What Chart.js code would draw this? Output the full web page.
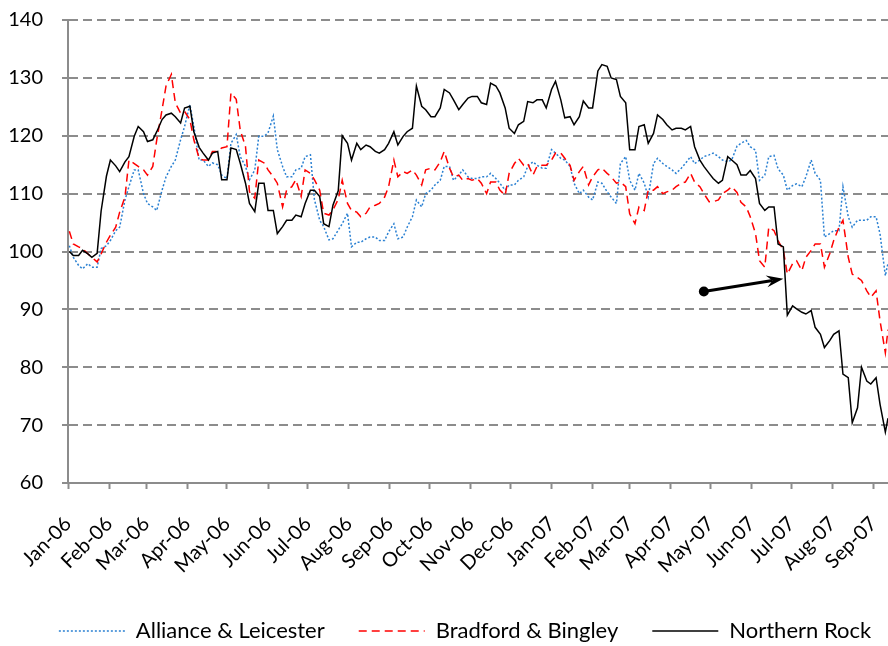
<!DOCTYPE html>
<html>
<head>
<meta charset="utf-8">
<script src="https://cdn.jsdelivr.net/npm/chart.js@4.4.0/dist/chart.umd.min.js"></script>
<style>
html,body{margin:0;padding:0;background:#fff;}
#wrap{width:888px;height:646px;position:relative;}
</style>
</head>
<body>
<div id="wrap"><canvas id="c" width="888" height="646"></canvas></div>
<script>
// ---- data (index values, sampled twice weekly from the reference) ----
const dates = [
 "2006-01-02","2006-01-05","2006-01-09","2006-01-12","2006-01-16","2006-01-19","2006-01-23","2006-01-26",
 "2006-01-30","2006-02-02","2006-02-06","2006-02-09","2006-02-13","2006-02-16","2006-02-20","2006-02-23",
 "2006-02-27","2006-03-02","2006-03-06","2006-03-09","2006-03-13","2006-03-16","2006-03-20","2006-03-23",
 "2006-03-27","2006-03-30","2006-04-03","2006-04-06","2006-04-10","2006-04-13","2006-04-17","2006-04-20",
 "2006-04-24","2006-04-27","2006-05-01","2006-05-04","2006-05-08","2006-05-11","2006-05-15","2006-05-18",
 "2006-05-22","2006-05-25","2006-05-29","2006-06-01","2006-06-05","2006-06-08","2006-06-12","2006-06-15",
 "2006-06-19","2006-06-22","2006-06-26","2006-06-29","2006-07-03","2006-07-06","2006-07-10","2006-07-13",
 "2006-07-17","2006-07-20","2006-07-24","2006-07-27","2006-07-31","2006-08-03","2006-08-07","2006-08-10",
 "2006-08-14","2006-08-17","2006-08-21","2006-08-24","2006-08-28","2006-08-31","2006-09-04","2006-09-07",
 "2006-09-11","2006-09-14","2006-09-18","2006-09-21","2006-09-25","2006-09-28","2006-10-02","2006-10-05",
 "2006-10-09","2006-10-12","2006-10-16","2006-10-19","2006-10-23","2006-10-26","2006-10-30","2006-11-02",
 "2006-11-06","2006-11-09","2006-11-13","2006-11-16","2006-11-20","2006-11-23","2006-11-27","2006-11-30",
 "2006-12-04","2006-12-07","2006-12-11","2006-12-14","2006-12-18","2006-12-21","2006-12-25","2006-12-28",
 "2007-01-01","2007-01-04","2007-01-08","2007-01-11","2007-01-15","2007-01-18","2007-01-22","2007-01-25",
 "2007-01-29","2007-02-01","2007-02-05","2007-02-08","2007-02-12","2007-02-15","2007-02-19","2007-02-22",
 "2007-02-26","2007-03-01","2007-03-05","2007-03-08","2007-03-12","2007-03-15","2007-03-19","2007-03-22",
 "2007-03-26","2007-03-29","2007-04-02","2007-04-05","2007-04-09","2007-04-12","2007-04-16","2007-04-19",
 "2007-04-23","2007-04-26","2007-04-30","2007-05-03","2007-05-07","2007-05-10","2007-05-14","2007-05-17",
 "2007-05-21","2007-05-24","2007-05-28","2007-05-31","2007-06-04","2007-06-07","2007-06-11","2007-06-14",
 "2007-06-18","2007-06-21","2007-06-25","2007-06-28","2007-07-02","2007-07-05","2007-07-09","2007-07-12",
 "2007-07-16","2007-07-19","2007-07-23","2007-07-26","2007-07-30","2007-08-02","2007-08-06","2007-08-09",
 "2007-08-13","2007-08-16","2007-08-20","2007-08-23","2007-08-27","2007-08-30","2007-09-03","2007-09-06",
 "2007-09-10","2007-09-12"
];
const allianceLeicester = [
 101.0,99.0, 97.6,97.0, 97.9,97.3, 97.3,100.5,
 101.0,101.9, 103.6,104.2, 108.9,111.2, 114.1,114.1,
 110.0,108.3, 107.7,107.1, 110.6,112.9, 114.7,115.8,
 119.3,121.6, 125.4,121.6, 115.8,115.8, 114.7,115.3,
 115.0,113.2, 112.6,118.7, 120.2,116.4, 114.7,112.4,
 114.1,119.9, 119.9,120.5, 123.4,117.6, 114.7,112.9,
 112.9,114.1, 114.4,116.4, 116.7,109.0, 105.4,104.3,
 102.0,102.2, 103.7,104.8, 106.6,100.8, 101.6,101.6,
 102.2,102.5, 102.5,101.9, 101.9,103.4, 104.8,102.2,
 102.5,104.2, 106.0,108.9, 107.7,110.0, 110.6,111.5,
 112.3,114.7, 114.7,112.3, 113.2,114.1, 112.9,112.6,
 112.6,112.9, 112.9,113.5, 112.6,111.8, 110.6,111.5,
 111.5,112.3, 112.9,114.7, 115.5,114.9, 114.4,114.4,
 117.6,117.0, 116.1,115.8, 114.7,111.8, 110.0,110.6,
 109.4,108.9, 112.0,111.8, 110.3,109.4, 108.3,115.2,
 116.4,112.3, 110.6,113.5, 111.8,109.4, 115.2,116.1,
 115.2,114.7, 114.1,113.5, 114.4,115.2, 116.4,115.2,
 115.8,116.4, 116.7,117.0, 116.4,115.8, 115.5,115.8,
 118.2,118.7, 119.2,118.1, 117.5,112.3, 113.2,116.4,
 116.6,114.3, 113.2,110.6, 111.4,111.7, 111.2,112.9,
 115.8,113.5, 112.3,102.5, 103.1,103.6, 103.6,111.2,
 106.0,104.2, 105.4,105.4, 105.4,106.0, 106.0,103.0,
 95.8,98.0
];
const bradfordBingley = [
 103.5,101.3, 100.8,100.5, 99.6,99.0, 98.2,99.6,
 101.6,102.8, 104.2,106.8, 109.4,115.8, 115.2,114.7,
 114.1,113.2, 114.7,119.3, 124.5,128.6, 130.6,125.7,
 123.9,124.2, 122.8,119.3, 116.1,115.8, 115.8,117.3,
 117.3,117.9, 118.1,127.4, 126.3,121.0, 118.1,110.3,
 109.2,115.8, 115.3,114.1, 112.9,111.8, 107.7,110.6,
 111.2,112.4, 109.5,114.1, 113.5,112.4, 110.6,106.6,
 106.3,107.2, 109.0,112.3, 108.3,107.1, 106.8,106.0,
 106.6,107.7, 108.0,108.3, 109.4,111.2, 115.8,112.9,
 113.8,113.5, 114.1,113.2, 111.5,114.1, 114.4,114.1,
 115.5,117.3, 114.4,112.9, 113.2,112.3, 112.6,112.3,
 112.6,111.8, 110.0,112.0, 112.0,110.6, 109.7,113.5,
 115.2,116.1, 114.9,115.2, 113.2,114.7, 114.9,114.9,
 115.8,117.0, 117.0,116.1, 114.9,112.3, 113.8,114.7,
 111.5,112.9, 114.1,114.4, 113.5,112.9, 111.8,112.0,
 111.2,106.5, 104.8,107.7, 107.1,110.6, 110.6,111.2,
 110.0,110.3, 110.6,111.2, 111.8,112.0, 113.5,112.0,
 111.2,110.0, 108.6,108.6, 108.9,110.0, 110.6,111.2,
 110.2,108.5, 107.7,106.0, 103.1,98.4, 97.3,104.2,
 103.6,101.9, 100.2,96.1, 97.9,98.4, 96.7,99.0,
 100.2,101.3, 101.3,97.3, 99.6,101.9, 104.2,105.4,
 99.0,96.1, 95.5,95.0, 93.2,92.1, 93.2,88.0,
 82.5,86.5
];
const northernRock = [
 100.0,99.3, 99.3,100.2, 99.6,99.0, 99.7,107.0,
 113.0,115.8, 114.8,113.8, 115.5,116.4, 119.9,121.6,
 120.7,119.0, 119.3,120.7, 122.8,123.6, 123.9,123.3,
 122.2,124.8, 125.1,120.7, 118.0,117.0, 115.8,117.0,
 117.3,112.4, 112.4,117.9, 117.6,115.3, 111.8,108.3,
 106.9,111.8, 111.8,107.1, 107.1,103.1, 104.3,105.4,
 105.4,106.3, 106.0,108.3, 110.6,110.6, 109.5,104.8,
 104.3,108.0, 110.5,120.0, 118.7,115.8, 118.7,117.6,
 118.4,118.1, 117.3,117.0, 117.6,118.7, 120.7,118.4,
 119.9,120.7, 121.3,128.6, 125.1,124.5, 123.3,123.3,
 124.8,128.0, 127.4,126.2, 124.5,125.4, 126.5,126.8,
 126.8,125.7, 125.4,129.1, 128.6,127.4, 124.8,121.3,
 120.4,121.9, 122.5,125.9, 125.7,126.2, 126.2,124.8,
 128.0,129.4, 126.2,123.1, 123.3,121.9, 123.3,126.0,
 124.8,124.8, 131.2,132.3, 132.0,130.0, 129.7,126.8,
 125.7,117.6, 117.6,121.6, 121.9,118.7, 120.4,123.6,
 122.8,121.9, 121.0,121.3, 121.3,121.0, 121.6,118.1,
 115.8,114.7, 113.5,112.6, 111.8,112.3, 116.4,115.8,
 115.0,113.2, 113.2,114.0, 112.6,108.3, 107.1,107.7,
 107.7,101.3, 100.8,89.0, 90.6,90.1, 89.5,89.2,
 89.8,86.9, 85.7,83.4, 84.6,85.7, 86.3,78.8,
 78.2,70.4, 73.0,80.0, 77.6,77.1, 78.2,73.6,
 68.8,71.2
];
const monthTicks = [
 "2006-01-01","2006-02-01","2006-03-01","2006-04-01","2006-05-01","2006-06-01",
 "2006-07-01","2006-08-01","2006-09-01","2006-10-01","2006-11-01","2006-12-01",
 "2007-01-01","2007-02-01","2007-03-01","2007-04-01","2007-05-01","2007-06-01",
 "2007-07-01","2007-08-01","2007-09-01"
];
const tickLabels = [
 "Jan-06","Feb-06","Mar-06","Apr-06","May-06","Jun-06","Jul-06","Aug-06","Sep-06",
 "Oct-06","Nov-06","Dec-06","Jan-07","Feb-07","Mar-07","Apr-07","May-07","Jun-07",
 "Jul-07","Aug-07","Sep-07"
];
const yTicks = [60,70,80,90,100,110,120,130,140];
const seriesNames = ["Alliance & Leicester","Bradford & Bingley","Northern Rock"];
const arrowFrom = ["2007-04-26", 93.1];
const arrowTo = ["2007-06-25", 95.3];

// ---- helpers ----
const DAY0 = Date.parse("2006-01-01T00:00:00Z");
const day = s => (Date.parse(s + "T00:00:00Z") - DAY0) / 86400000;
const pts = vals => dates.map((d, i) => ({x: day(d), y: vals[i]}));

const GRID = '#8c8c8c';
const FONT = "Lato, 'Open Sans', 'Liberation Sans', sans-serif";
Chart.defaults.font.family = FONT;
Chart.defaults.color = '#000';

const styles = [
  {color:'#2a80d2', dash:[2,2], width:1.5, order:2},
  {color:'#ff0000', dash:[8,5], width:1.5, order:1},
  {color:'#000000', dash:[], width:1.5, order:0}
];
const seriesValues = [allianceLeicester, bradfordBingley, northernRock];

const datasets = seriesValues.map((v, i) => ({
  label: seriesNames[i],
  data: pts(v),
  borderColor: styles[i].color,
  backgroundColor: styles[i].color,
  borderDash: styles[i].dash,
  borderWidth: styles[i].width,
  pointRadius: 0,
  pointHoverRadius: 0,
  tension: 0,
  fill: false,
  order: styles[i].order
}));

const arrowPlugin = {
  id: 'arrow',
  afterDatasetsDraw(chart) {
    const {ctx, scales: {x, y}} = chart;
    const x1 = x.getPixelForValue(day(arrowFrom[0])), y1 = y.getPixelForValue(arrowFrom[1]);
    const x2 = x.getPixelForValue(day(arrowTo[0])), y2 = y.getPixelForValue(arrowTo[1]);
    const ang = Math.atan2(y2 - y1, x2 - x1);
    const L = 17, W = 6, N = 11;
    ctx.save();
    ctx.fillStyle = '#000'; ctx.strokeStyle = '#000';
    ctx.lineWidth = 3; ctx.setLineDash([]);
    ctx.beginPath();
    ctx.moveTo(x1, y1);
    ctx.lineTo(x2 - N * Math.cos(ang), y2 - N * Math.sin(ang));
    ctx.stroke();
    ctx.beginPath();
    ctx.moveTo(x2, y2);
    ctx.lineTo(x2 - L * Math.cos(ang) + W * Math.sin(ang), y2 - L * Math.sin(ang) - W * Math.cos(ang));
    ctx.lineTo(x2 - N * Math.cos(ang), y2 - N * Math.sin(ang));
    ctx.lineTo(x2 - L * Math.cos(ang) - W * Math.sin(ang), y2 - L * Math.sin(ang) + W * Math.cos(ang));
    ctx.closePath();
    ctx.fill();
    ctx.beginPath();
    ctx.arc(x1, y1, 5, 0, Math.PI * 2);
    ctx.fill();
    ctx.restore();
  }
};

const legendShift = {
  id: 'legendShift',
  afterLayout(chart) {
    const dx = 21, dy = 6;
    const lg = chart.legend;
    if (lg) { lg.top += dy; lg.bottom += dy; lg.left += dx; lg.right += dx; }
  }
};

new Chart(document.getElementById('c'), {
  type: 'line',
  data: {datasets},
  options: {
    responsive: false,
    animation: false,
    events: [],
    layout: {padding: {top: 20, right: 0, left: 0, bottom: 0}},
    plugins: {
      legend: {
        position: 'bottom',
        labels: {
          usePointStyle: true,
          pointStyleWidth: 66,
          padding: 34,
          font: {size: 22, family: FONT},
          color: '#000',
          generateLabels: chart => chart.data.datasets.map((ds, i) => ({
            text: ds.label,
            fillStyle: 'rgba(0,0,0,0)',
            strokeStyle: ds.borderColor,
            lineWidth: ds.borderWidth,
            lineDash: ds.borderDash,
            pointStyle: 'line',
            hidden: false,
            datasetIndex: i
          }))
        }
      },
      tooltip: {enabled: false}
    },
    scales: {
      x: {
        type: 'linear',
        min: 0,
        max: day(dates[dates.length - 1]),
        afterBuildTicks: s => { s.ticks = monthTicks.map(d => ({value: day(d)})); },
        afterFit: s => { s.height = 97; s.paddingLeft = 0; s.paddingRight = 0; },
        ticks: {
          autoSkip: false,
          maxRotation: 45,
          minRotation: 45,
          padding: 23,
          font: {size: 20, family: FONT},
          color: '#000',
          callback: (v, i) => tickLabels[i]
        },
        grid: {drawOnChartArea: false, drawTicks: true, tickLength: 6, tickColor: GRID, tickWidth: 2},
        border: {display: true, color: GRID, width: 2}
      },
      y: {
        min: 60,
        max: 140,
        afterBuildTicks: s => { s.ticks = yTicks.map(v => ({value: v})); },
        afterFit: s => { s.width = 68; s.paddingTop = 0; s.paddingBottom = 0; },
        ticks: {padding: 19, font: {size: 20, family: FONT}, color: '#000'},
        grid: {
          color: c => (c.tick && c.tick.value === 60) ? 'rgba(0,0,0,0)' : GRID,
          lineWidth: 2,
          drawTicks: true,
          tickLength: 6,
          tickColor: GRID,
          tickWidth: 2
        },
        border: {display: true, color: GRID, width: 2, dash: [9, 5]}
      }
    }
  },
  plugins: [arrowPlugin, legendShift]
});
</script>
</body>
</html>
